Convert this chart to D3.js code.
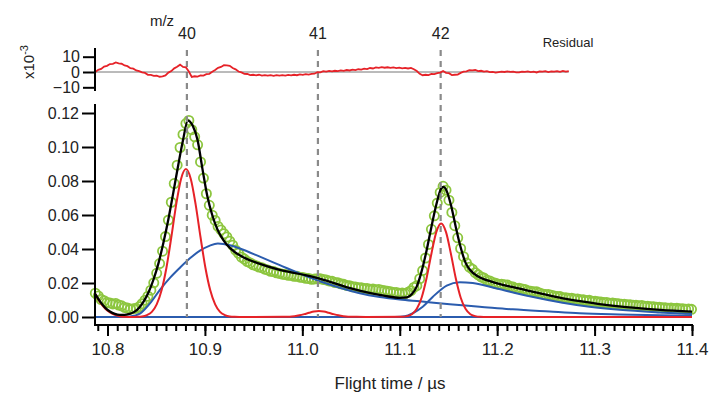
<!DOCTYPE html>
<html>
<head>
<meta charset="utf-8">
<script src="https://cdn.jsdelivr.net/npm/d3@7"></script>
<style>
  body { margin: 0; background: #fff; }
  text { font-family: "Liberation Sans", Arial, Helvetica, sans-serif; fill: #222; }
</style>
</head>
<body>
<div id="chart"></div>
<script>
// measured signal: sampled every 3 ns starting at 10.7875 us
const dataStart = 10.7875;
const dataStep = 0.003;
const signal = [
  0.0140, 0.0124, 0.0103, 0.0096, 0.0086, 0.0083, 0.0077, 0.0079, 0.0070, 0.0066,
  0.0056, 0.0053, 0.0046, 0.0049, 0.0051, 0.0060, 0.0078, 0.0099, 0.0122, 0.0158,
  0.0201, 0.0257, 0.0314, 0.0387, 0.0473, 0.0570, 0.0675, 0.0785, 0.0893, 0.0997,
  0.1074, 0.1138, 0.1156, 0.1102, 0.1060, 0.1013, 0.0912, 0.0817, 0.0725, 0.0657,
  0.0599, 0.0568, 0.0533, 0.0512, 0.0490, 0.0471, 0.0446, 0.0422, 0.0394, 0.0375,
  0.0352, 0.0341, 0.0326, 0.0318, 0.0307, 0.0302, 0.0294, 0.0290, 0.0281, 0.0277,
  0.0269, 0.0267, 0.0260, 0.0256, 0.0252, 0.0250, 0.0245, 0.0245, 0.0239, 0.0239,
  0.0234, 0.0233, 0.0228, 0.0227, 0.0222, 0.0224, 0.0225, 0.0225, 0.0221, 0.0218,
  0.0212, 0.0210, 0.0203, 0.0201, 0.0195, 0.0192, 0.0186, 0.0184, 0.0178, 0.0177,
  0.0172, 0.0172, 0.0168, 0.0168, 0.0163, 0.0164, 0.0161, 0.0162, 0.0157, 0.0155,
  0.0151, 0.0149, 0.0144, 0.0144, 0.0139, 0.0141, 0.0138, 0.0145, 0.0155, 0.0174,
  0.0184, 0.0225, 0.0273, 0.0347, 0.0427, 0.0516, 0.0595, 0.0670, 0.0733, 0.0769,
  0.0746, 0.0687, 0.0615, 0.0537, 0.0466, 0.0403, 0.0355, 0.0318, 0.0293, 0.0281,
  0.0261, 0.0248, 0.0236, 0.0229, 0.0216, 0.0212, 0.0203, 0.0198, 0.0193, 0.0193,
  0.0189, 0.0188, 0.0180, 0.0176, 0.0168, 0.0169, 0.0165, 0.0162, 0.0154, 0.0151,
  0.0148, 0.0148, 0.0141, 0.0136, 0.0132, 0.0133, 0.0128, 0.0124, 0.0121, 0.0120,
  0.0113, 0.0113, 0.0110, 0.0110, 0.0106, 0.0106, 0.0102, 0.0101, 0.0097, 0.0098,
  0.0092, 0.0093, 0.0089, 0.0088, 0.0085, 0.0086, 0.0081, 0.0082, 0.0079, 0.0078,
  0.0075, 0.0075, 0.0072, 0.0072, 0.0069, 0.0069, 0.0066, 0.0067, 0.0063, 0.0063,
  0.0060, 0.0061, 0.0057, 0.0058, 0.0054, 0.0055, 0.0052, 0.0053, 0.0050, 0.0051,
  0.0048, 0.0049, 0.0046, 0.0047, 0.0045
];

// fit residual, same time grid, in units of 1e-3
const residual = [
  0.0, 1.4, 2.0, 3.5, 4.0, 5.2, 5.3, 6.2, 5.6, 5.4,
  4.3, 3.8, 2.5, 2.2, 1.0, 0.6, -0.2, -0.6, -1.8, -1.9,
  -2.5, -2.4, -3.1, -2.8, -2.2, -0.4, 0.6, 2.4, 3.4, 4.8,
  3.3, 3.0, 0.3, -3.2, -2.8, -3.0, -2.3, -2.4, -1.4, -1.2,
  0.2, 1.3, 2.7, 3.3, 4.4, 4.3, 4.0, 2.6, 1.7, 0.3,
  -0.3, -1.2, -1.3, -2.0, -1.8, -2.2, -1.8, -2.3, -2.0, -2.4,
  -2.1, -2.5, -2.0, -2.4, -2.1, -2.4, -1.9, -2.2, -1.8, -2.1,
  -1.6, -1.9, -1.4, -1.7, -1.2, -1.1, -0.1, -0.2, 0.5, 0.2,
  0.7, 0.4, 0.8, 0.6, 1.1, 0.8, 1.3, 1.0, 1.5, 1.2,
  1.8, 1.6, 2.2, 1.9, 2.6, 2.3, 3.0, 2.7, 3.2, 2.8,
  3.1, 2.7, 3.0, 2.6, 2.9, 2.4, 2.7, 2.3, 2.7, 1.8,
  0.6, -1.2, -2.1, -1.8, -2.0, -1.3, -1.4, -0.8, -0.4, 0.7,
  -0.5, -0.8, -2.0, -1.8, -1.7, -0.6, 0.2, 0.4, 1.2, 1.1,
  1.3, 0.6, 0.8, 0.2, 0.5, -0.1, 0.1, -0.4, -0.1, 0.2,
  0.0, 0.4, 0.1, 0.2, -0.2, -0.3, 0.3, 0.1, 0.4, -0.1,
  0.2, -0.3, 0.4, 0.2, 0.5, -0.1, 0.4, 0.2, 0.6, 0.1,
  0.7, 0.3, 0.6
];

// total fit [time, value]
const fitTotal = [
  [10.7875, 0.0135], [10.7925, 0.0090], [10.7975, 0.0055], [10.8025, 0.0032], [10.8075, 0.0018],
  [10.8125, 0.0012], [10.8175, 0.0012], [10.8225, 0.0018], [10.8275, 0.0030], [10.8325, 0.0055],
  [10.8375, 0.0095], [10.8425, 0.0150], [10.8475, 0.0225], [10.8525, 0.0320], [10.8575, 0.0440],
  [10.8625, 0.0575], [10.8675, 0.0730], [10.8725, 0.0890], [10.8775, 0.1040], [10.8825, 0.1155],
  [10.8875, 0.1125], [10.8925, 0.1040], [10.8975, 0.0870], [10.9025, 0.0710], [10.9075, 0.0600],
  [10.9125, 0.0520], [10.9175, 0.0465], [10.9225, 0.0425], [10.9300, 0.0385], [10.9400, 0.0350],
  [10.9550, 0.0315], [10.9750, 0.0280], [11.0000, 0.0250], [11.0150, 0.0230], [11.0350, 0.0195],
  [11.0500, 0.0168], [11.0700, 0.0140], [11.0850, 0.0124], [11.1000, 0.0113], [11.1075, 0.0115],
  [11.1125, 0.0135], [11.1175, 0.0180], [11.1225, 0.0270], [11.1275, 0.0390], [11.1325, 0.0530],
  [11.1375, 0.0660], [11.1425, 0.0755], [11.1450, 0.0765], [11.1475, 0.0750], [11.1525, 0.0660],
  [11.1575, 0.0530], [11.1625, 0.0410], [11.1675, 0.0320], [11.1725, 0.0275], [11.1800, 0.0240],
  [11.1900, 0.0215], [11.2000, 0.0198], [11.2150, 0.0177], [11.2325, 0.0154], [11.2500, 0.0131],
  [11.2675, 0.0110], [11.2850, 0.0093], [11.3050, 0.0076], [11.3325, 0.0058], [11.3675, 0.0042],
  [11.4000, 0.0031]
];

// narrow (red) components
const fitRed = [
  [10.7875, 0.0135], [10.7925, 0.0085], [10.7975, 0.0050], [10.8025, 0.0027], [10.8075, 0.0013],
  [10.8125, 0.0005], [10.8175, 0.0001], [10.8250, 0],
  [10.8305, 0.0001], [10.8355, 0.0003], [10.8405, 0.0011], [10.8455, 0.0030], [10.8505, 0.0074],
  [10.8555, 0.0157], [10.8605, 0.0290], [10.8655, 0.0469], [10.8705, 0.0661], [10.8755, 0.0812],
  [10.8805, 0.0870], [10.8855, 0.0812], [10.8905, 0.0661], [10.8955, 0.0469], [10.9005, 0.0290],
  [10.9055, 0.0157], [10.9105, 0.0074], [10.9155, 0.0030], [10.9205, 0.0011], [10.9255, 0.0003],
  [10.9305, 0.0001], [10.9400, 0],
  [10.9800, 0.0001], [10.9870, 0.0002], [10.9920, 0.0005], [10.9970, 0.0010], [11.0020, 0.0017],
  [11.0070, 0.0025], [11.0120, 0.0032], [11.0170, 0.0035], [11.0220, 0.0032], [11.0270, 0.0025],
  [11.0320, 0.0017], [11.0370, 0.0010], [11.0420, 0.0005], [11.0470, 0.0002], [11.0540, 0.0001],
  [11.0650, 0],
  [11.1025, 0.0001], [11.1075, 0.0005], [11.1125, 0.0016], [11.1175, 0.0048], [11.1225, 0.0115],
  [11.1275, 0.0228], [11.1325, 0.0372], [11.1375, 0.0499], [11.1425, 0.0550], [11.1475, 0.0499],
  [11.1525, 0.0372], [11.1575, 0.0228], [11.1625, 0.0115], [11.1675, 0.0048], [11.1725, 0.0016],
  [11.1775, 0.0005], [11.1825, 0.0001], [11.1900, 0], [11.4000, 0]
];

// broad (blue) components
const fitBlue1 = [
  [10.8125, 0], [10.8231, 0.0003], [10.8333, 0.0020], [10.8436, 0.0080], [10.8538, 0.0160],
  [10.8641, 0.0230], [10.8744, 0.0290], [10.8846, 0.0345], [10.8949, 0.0390], [10.9051, 0.0420],
  [10.9133, 0.0432], [10.9256, 0.0422], [10.9359, 0.0403], [10.9564, 0.0355], [10.9769, 0.0305],
  [10.9974, 0.0255], [11.0179, 0.0210], [11.0385, 0.0172], [11.0590, 0.0140], [11.0795, 0.0118],
  [11.1000, 0.0103], [11.1205, 0.0092], [11.1513, 0.0075], [11.1820, 0.0061], [11.2159, 0.0045],
  [11.2538, 0.0032], [11.2846, 0.0022], [11.3256, 0.0015], [11.3667, 0.0010], [11.4000, 0.0008]
];
const fitBlue2 = [
  [11.0950, 0], [11.1051, 0.0004], [11.1133, 0.0022], [11.1236, 0.0060], [11.1338, 0.0118],
  [11.1482, 0.0185], [11.1615, 0.0205], [11.1749, 0.0200], [11.1995, 0.0168], [11.2333, 0.0122],
  [11.2672, 0.0084], [11.2949, 0.0060], [11.3256, 0.0042], [11.3667, 0.0027], [11.4000, 0.0018]
];
const fitBaseline = [[10.7875, 0], [11.4, 0]];

const massLabels = ['40', '41', '42'];
const massTimes = [10.8815, 11.016, 11.142];
const xTicks = [10.8, 10.9, 11.0, 11.1, 11.2, 11.3, 11.4];
const yTicks = [0, 0.02, 0.04, 0.06, 0.08, 0.10, 0.12];
const resTicks = [10, 0, -10];

const width = 715;
const height = 396;
const colors = { data: '#8dc63f', fit: '#000', narrow: '#e62228', broad: '#2b5cae', marker: '#8a8a8a' };

const svg = d3.select('#chart').append('svg')
  .attr('width', width)
  .attr('height', height);
svg.append('rect').attr('width', width).attr('height', height).attr('fill', '#fff');

const x = d3.scaleLinear().domain([10.8, 11.4]).range([107.5, 692]);
const y = d3.scaleLinear().domain([0, 0.12]).range([317, 113]);
const yr = d3.scaleLinear().domain([-10, 10]).range([87.3, 56.7]);
const tAt = (i) => dataStart + i * dataStep;

const line = d3.line().x((d) => x(d[0])).y((d) => y(d[1])).curve(d3.curveMonotoneX);

// signal markers
svg.append('g').selectAll('circle').data(signal).join('circle')
  .attr('cx', (d, i) => x(tAt(i)))
  .attr('cy', (d) => y(d))
  .attr('r', 4.6)
  .attr('fill', 'none')
  .attr('stroke', colors.data)
  .attr('stroke-width', 1.8);

// components and fit
[[fitBaseline, colors.broad], [fitBlue1, colors.broad], [fitBlue2, colors.broad],
 [fitRed, colors.narrow], [fitTotal, colors.fit]].forEach(([pts, c]) => {
  svg.append('path').datum(pts)
    .attr('d', line)
    .attr('fill', 'none')
    .attr('stroke', c)
    .attr('stroke-width', c === colors.fit ? 2.3 : 2);
});

// mass markers
massTimes.forEach((t, i) => {
  svg.append('line')
    .attr('x1', x(t)).attr('x2', x(t))
    .attr('y1', 50).attr('y2', 317)
    .attr('stroke', colors.marker)
    .attr('stroke-width', 2.2)
    .attr('stroke-dasharray', '6,5');
  svg.append('text')
    .attr('x', x(t)).attr('y', 39)
    .attr('text-anchor', 'middle')
    .attr('font-size', 16)
    .text(massLabels[i]);
});
svg.append('text').attr('x', 162).attr('y', 26).attr('text-anchor', 'middle')
  .attr('font-size', 15).text('m/z');

// x axis
const xMinor = d3.range(1079, 1141).map((d) => d / 100);
svg.append('g').attr('transform', 'translate(0,325)')
  .call(d3.axisBottom(x).tickValues(xMinor).tickSize(6).tickFormat(''))
  .call((g) => g.select('.domain').remove());
svg.append('g').attr('transform', 'translate(0,325)')
  .call(d3.axisBottom(x).tickValues(xTicks).tickSize(11).tickPadding(7).tickFormat(d3.format('.1f')))
  .call((g) => g.select('.domain').remove())
  .call((g) => g.selectAll('text').attr('font-size', 17).attr('fill', '#222'));
svg.append('line').attr('x1', 94).attr('x2', 693).attr('y1', 325).attr('y2', 325)
  .attr('stroke', '#000').attr('stroke-width', 2);
svg.append('text').attr('x', 390).attr('y', 389).attr('text-anchor', 'middle')
  .attr('font-size', 17).text('Flight time / \u00b5s');

// y axis
svg.append('g').attr('transform', 'translate(95,0)')
  .call(d3.axisLeft(y).tickValues(yTicks).tickSize(13).tickPadding(3).tickFormat(d3.format('.2f')))
  .call((g) => g.select('.domain').remove())
  .call((g) => g.selectAll('text').attr('font-size', 16).attr('fill', '#222'));
svg.append('line').attr('x1', 95).attr('x2', 95).attr('y1', 104).attr('y2', 326)
  .attr('stroke', '#000').attr('stroke-width', 2);

// residual panel
svg.append('line').attr('x1', 95).attr('x2', x(tAt(residual.length - 1)))
  .attr('y1', yr(0)).attr('y2', yr(0))
  .attr('stroke', '#777').attr('stroke-width', 1);
svg.append('path').datum(residual)
  .attr('d', d3.line().x((d, i) => x(tAt(i))).y((d) => yr(d)))
  .attr('fill', 'none')
  .attr('stroke', colors.narrow)
  .attr('stroke-width', 1.8);
svg.append('g').attr('transform', 'translate(95,0)')
  .call(d3.axisLeft(yr).tickValues(resTicks).tickSize(12).tickPadding(3).tickFormat(d3.format('d')))
  .call((g) => g.select('.domain').remove())
  .call((g) => g.selectAll('text').attr('font-size', 16).attr('fill', '#222'));
svg.append('line').attr('x1', 95).attr('x2', 95).attr('y1', 48).attr('y2', 91)
  .attr('stroke', '#000').attr('stroke-width', 2);
const yl = svg.append('text').attr('transform', 'translate(34,62) rotate(-90)')
  .attr('text-anchor', 'middle').attr('font-size', 15);
yl.append('tspan').text('x10');
yl.append('tspan').attr('dy', -6).attr('font-size', 11).text('-3');
svg.append('text').attr('x', 568).attr('y', 47).attr('text-anchor', 'middle')
  .attr('font-size', 13).attr('fill', '#333').text('Residual');

svg.selectAll('.tick line').attr('stroke', '#000').attr('stroke-width', 2);
</script>
</body>
</html>
